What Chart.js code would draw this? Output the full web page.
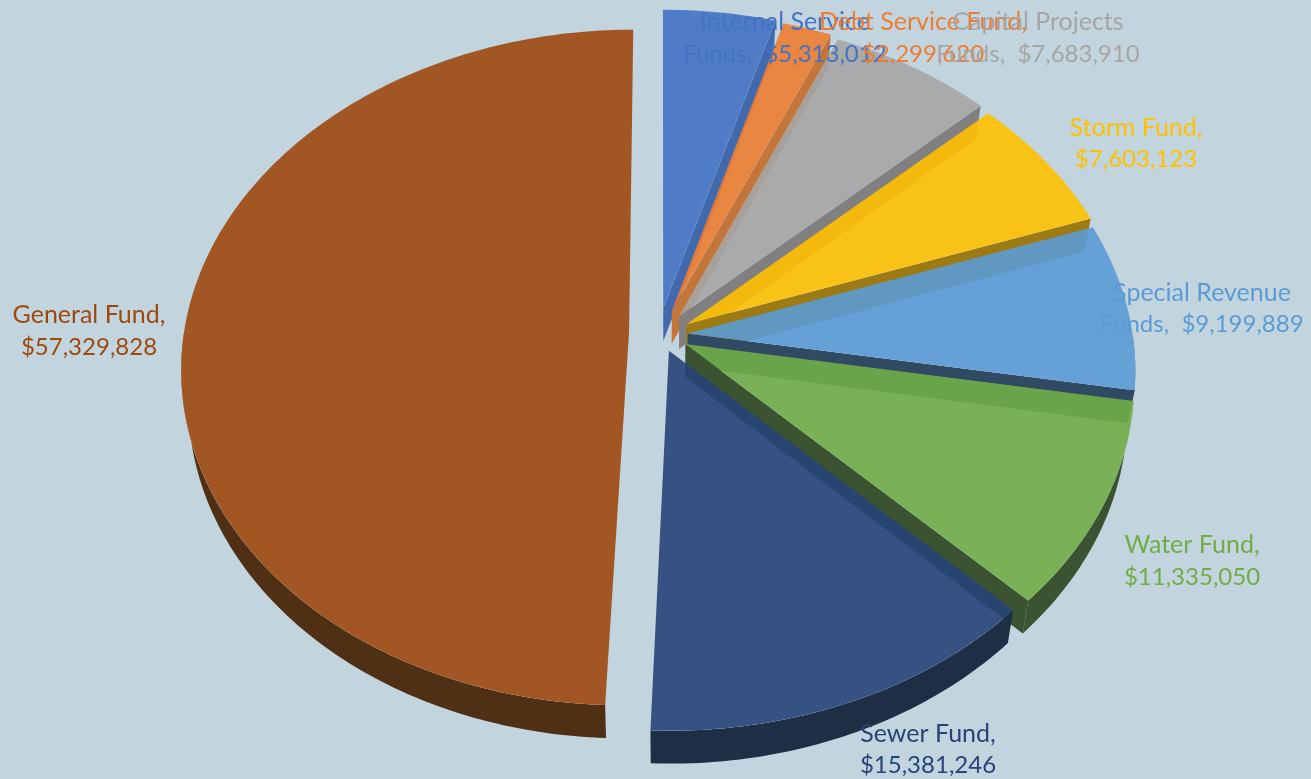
<!DOCTYPE html>
<html>
<head>
<meta charset="utf-8">
<title>Funds</title>
<script src="https://cdn.jsdelivr.net/npm/chart.js@4/dist/chart.umd.min.js"></script>
<style>
    html, body { margin: 0; padding: 0; background: #c2d5de; overflow: hidden; }
    canvas { display: block; }
</style>
</head>
<body>
<canvas id="myChart" width="1311" height="779"></canvas>
<script>
const funds = [
    ['Internal Service', 'Funds'],
    ['Debt Service Fund'],
    ['Capital Projects', 'Funds'],
    ['Storm Fund'],
    ['Special Revenue', 'Funds'],
    ['Water Fund'],
    ['Sewer Fund'],
    ['General Fund']
]
const amounts = [5313012, 2299620, 7683910, 7603123, 9199889, 11335050, 15381246, 57329828]

const topColors = ['#4472c4', '#ed7d31', '#a5a5a5', '#ffc000', '#5b9bd5', '#70ad47', '#264478', '#9e480e']
const sideColors = ['#4169ae', '#c4753a', '#808080', '#9c7a14', '#314a63', '#3b5330', '#1e2e44', '#4f3014']
const explode = [68, 68, 68, 68, 68, 68, 112, 116]

// extra pixel shift per slice on top of the radial explode
const nudges = [[-7, -5], [-3, -3], [-1, 0], [0, 3], [-2, 5], [-2, 6], [-12, -6], [1, 2]]

// centre of each text block, first line and second line
const labelSpots = [
    [785, 21, 53], [923, 21, 53], [1038, 21, 53], [1136, 127, 158],
    [1202, 292, 323], [1192, 544, 576], [928, 733, 764], [89, 314, 346]
]

// tilted disc: unit circle coordinates to canvas pixels
const cx = 667, cy = 330, rx = 445, ry = 338, tilt = 0.107
const depth = 33, shrink = 0.015

const project = (u, v) => {
    const p = 1 + tilt * v
    return [cx + u * rx * p, cy + v * ry * p]
}
const floor = ([x, y]) => [x - (x - cx) * shrink, y + depth]

const tracePoints = (ctx, points) => {
    points.forEach(([x, y], i) => i ? ctx.lineTo(x, y) : ctx.moveTo(x, y))
    ctx.closePath()
}

const fillPoints = (ctx, points, color) => {
    ctx.beginPath()
    tracePoints(ctx, points)
    ctx.fillStyle = color
    ctx.fill()
}

const drawSlice = (ctx, arc, sideColor, [dx, dy]) => {
    const {startAngle, endAngle, outerRadius, options} = arc
    const mid = (startAngle + endAngle) / 2
    const off = options.offset / 4 / outerRadius
    const ox = Math.cos(mid) * off
    const oy = Math.sin(mid) * off
    const place = (u, v) => {
        const [x, y] = project(u, v)
        return [x + dx, y + dy]
    }
    const apex = place(ox, oy)

    const steps = Math.max(8, Math.ceil((endAngle - startAngle) * 60))
    const rim = []
    const front = []
    for (let i = 0; i <= steps; i++) {
        const a = startAngle + (endAngle - startAngle) * i / steps
        const pt = place(ox + Math.cos(a), oy + Math.sin(a))
        rim.push(pt)
        if (Math.sin(a) > 0) front.push(pt)
    }
    const face = [apex, ...rim]

    // walls only show outside their own top face
    ctx.save()
    ctx.beginPath()
    ctx.rect(0, 0, ctx.canvas.width, ctx.canvas.height)
    tracePoints(ctx, face)
    ctx.clip('evenodd')
    if (front.length > 1) {
        fillPoints(ctx, [...front, ...front.map(floor).reverse()], sideColor)
    }
    if (Math.cos(endAngle) > 0.05) {
        const last = rim[rim.length - 1]
        fillPoints(ctx, [apex, last, floor(last), floor(apex)], sideColor)
    }
    ctx.restore()

    ctx.save()
    ctx.globalAlpha = 0.9
    fillPoints(ctx, face, options.backgroundColor)
    ctx.restore()
}

const tiltedPie = {
    id: 'tiltedPie',
    beforeDatasetDraw(chart, args) {
        const ctx = chart.ctx
        args.meta.data.forEach((arc, i) => drawSlice(ctx, arc, sideColors[i], nudges[i]))
        return false
    },
    afterDraw(chart) {
        const ctx = chart.ctx
        ctx.save()
        ctx.textAlign = 'center'
        ctx.textBaseline = 'middle'
        funds.forEach((name, i) => {
            const money = '$' + amounts[i].toLocaleString('en-US')
            const first = name.length > 1 ? name[0] : name[0] + ','
            const second = name.length > 1 ? name[1] + ',  ' + money : money
            const [x, y1, y2] = labelSpots[i]
            ctx.fillStyle = topColors[i]
            ctx.font = '25px Lato'
            ctx.fillText(first, x, y1 + 1)
            ctx.font = '24px Lato'
            ctx.fillText(second, x, y2 + 1)
        })
        ctx.restore()
    }
}

new Chart(document.getElementById('myChart').getContext('2d'), {
    type: 'pie',
    plugins: [tiltedPie],
    data: {
        labels: funds,
        datasets: [{
            data: amounts,
            backgroundColor: topColors,
            offset: explode,
            borderWidth: 0
        }]
    },
    options: {
        responsive: false,
        animation: false,
        layout: { padding: 0 },
        plugins: {
            legend: { display: false },
            tooltip: { enabled: false }
        }
    }
})
</script>
</body>
</html>
